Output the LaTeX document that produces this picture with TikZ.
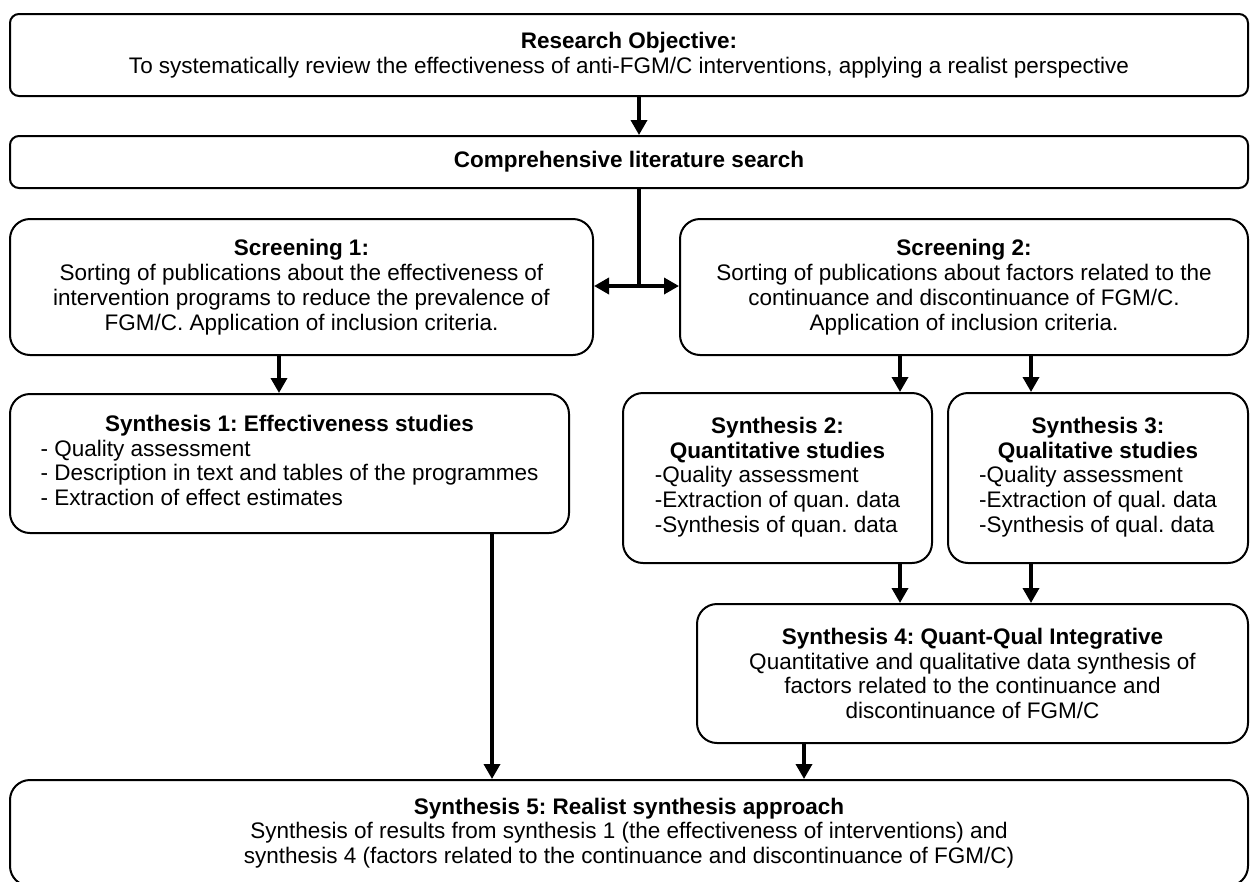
\documentclass[tikz,border=0pt]{standalone}
\usepackage{fontspec}
\setmainfont{Liberation Sans}
\usetikzlibrary{arrows.meta}
\frenchspacing
\tikzset{
  box/.style={draw, line width=2pt, rounded corners=20pt, inner sep=0pt, align=center, font=\fontsize{22.5}{24.8}\selectfont\frenchspacing},
  topbox/.style={box, rounded corners=9pt},
  arr/.style={line width=3.5pt, -{Triangle[width=16pt,length=15pt]}},
  conn/.style={line width=3.5pt}
}
\begin{document}
\begin{tikzpicture}[x=1pt,y=-1pt]
\clip (0,0) rectangle (1250,881);
\fill[white] (0,0) rectangle (1250,881);

\node[topbox, minimum width=1238pt, minimum height=82pt] (obj) at (629,55)
 {\textbf{Research Objective:}\\To systematically review the effectiveness of anti-FGM/C interventions, applying a realist perspective};
\node[topbox, minimum width=1238pt, minimum height=52pt] (search) at (629,162)
 {\textbf{Comprehensive literature search}};
\node[box, minimum width=583pt, minimum height=136pt] (sc1) at (301.5,287)
 {\textbf{Screening 1:}\\Sorting of publications about the effectiveness of\\intervention programs to reduce the prevalence of\\FGM/C. Application of inclusion criteria.};
\node[box, minimum width=568pt, minimum height=136pt] (sc2) at (964,287)
 {\textbf{Screening 2:}\\Sorting of publications about factors related to the\\continuance and discontinuance of FGM/C.\\Application of inclusion criteria.};
\node[box, minimum width=559pt, minimum height=139pt] (syn1) at (289.5,463.5)
 {\begin{tabular}{@{}l@{}}\multicolumn{1}{@{}c@{}}{\textbf{Synthesis 1: Effectiveness studies}}\\
 - Quality assessment\\- Description in text and tables of the programmes\\- Extraction of effect estimates\end{tabular}};
\node[box, minimum width=309pt, minimum height=170pt] (syn2) at (777.5,478)
 {\begin{tabular}{@{}l@{}}\multicolumn{1}{@{}c@{}}{\textbf{Synthesis 2:}}\\\multicolumn{1}{@{}c@{}}{\textbf{Quantitative studies}}\\
 -Quality assessment\\-Extraction of quan. data\\-Synthesis of quan. data\end{tabular}};
\node[box, minimum width=300pt, minimum height=170pt] (syn3) at (1098,478)
 {\begin{tabular}{@{}l@{}}\multicolumn{1}{@{}c@{}}{\textbf{Synthesis 3:}}\\\multicolumn{1}{@{}c@{}}{\textbf{Qualitative studies}}\\
 -Quality assessment\\-Extraction of qual. data\\-Synthesis of qual. data\end{tabular}};
\node[box, minimum width=551pt, minimum height=139pt] (syn4) at (972.5,673.5)
 {\textbf{Synthesis 4: Quant-Qual Integrative}\\Quantitative and qualitative data synthesis of\\factors related to the continuance and\\discontinuance of FGM/C};
\node[box, minimum width=1238pt, minimum height=106pt] (syn5) at (629,833)
 {\textbf{Synthesis 5: Realist synthesis approach}\\Synthesis of results from synthesis 1 (the effectiveness of interventions) and\\synthesis 4 (factors related to the continuance and discontinuance of FGM/C)};

\coordinate (xm) at (639,0);
\coordinate (j) at (639,286);
\coordinate (xa) at (279,0);
\coordinate (xb) at (900,0);
\coordinate (xc) at (1031,0);
\coordinate (xd) at (492,0);
\coordinate (xe) at (804,0);

\draw[arr] (obj.south -| xm) -- (search.north -| xm);
\draw[conn] (search.south -| xm) -- (j);
\draw[arr] (j) -- (sc1.east |- j);
\draw[arr] (j) -- (sc2.west |- j);
\draw[arr] (sc1.south -| xa) -- (syn1.north -| xa);
\draw[arr] (sc2.south -| xb) -- (syn2.north -| xb);
\draw[arr] (sc2.south -| xc) -- (syn3.north -| xc);
\draw[arr] (syn2.south -| xb) -- (syn4.north -| xb);
\draw[arr] (syn3.south -| xc) -- (syn4.north -| xc);
\draw[arr] (syn1.south -| xd) -- (syn5.north -| xd);
\draw[arr] (syn4.south -| xe) -- (syn5.north -| xe);
\end{tikzpicture}
\end{document}
